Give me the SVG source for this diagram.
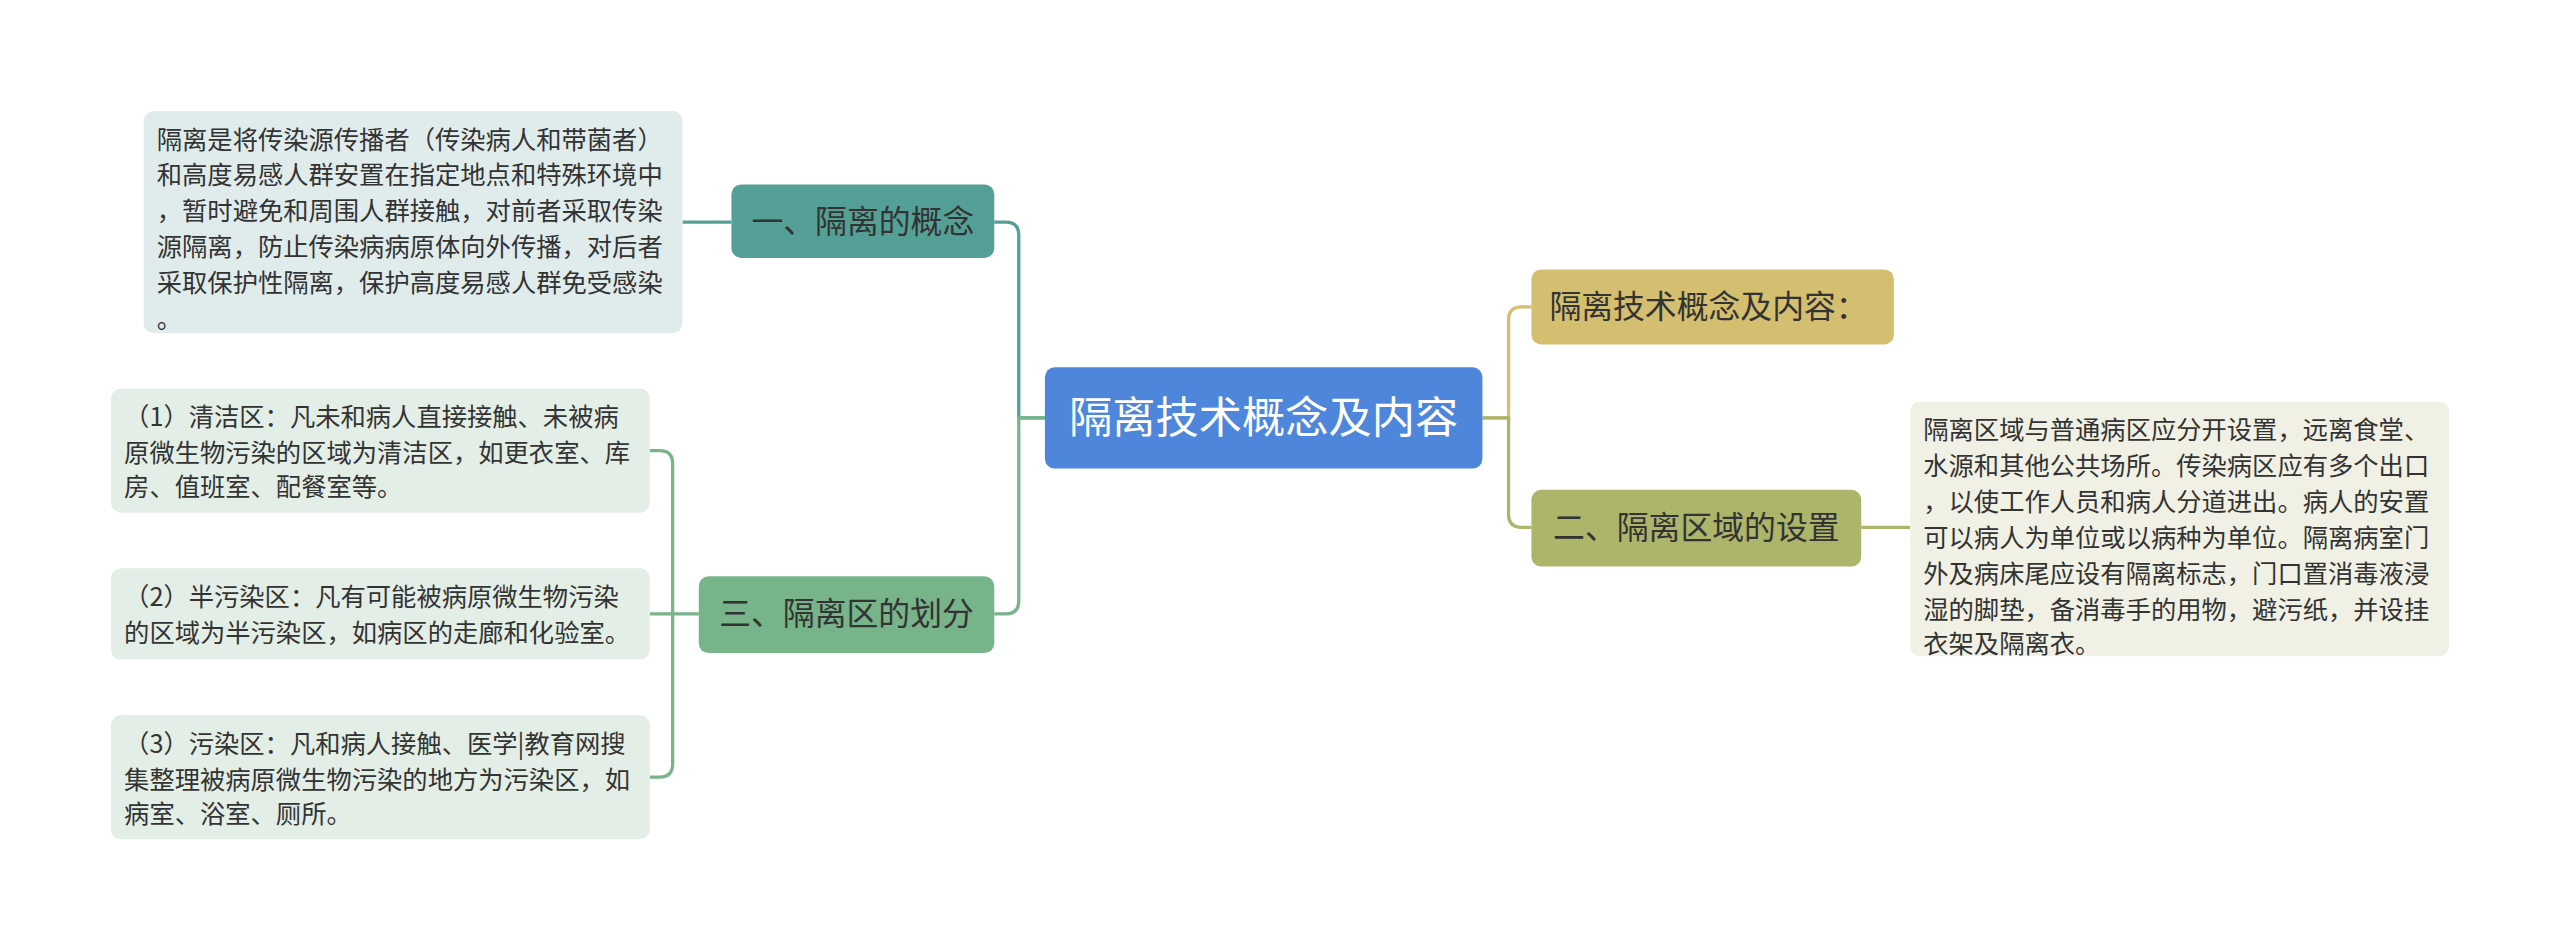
<svg xmlns="http://www.w3.org/2000/svg" width="2560" height="951" viewBox="0 0 2560 951">
<style>
text{font-family:"Noto Sans CJK SC","Noto Sans",sans-serif;fill:#333}
.s{font-size:15.5px}
.m{font-size:19.5px}
.c{fill:none;stroke-width:2}
</style>
<rect width="2560" height="951" fill="#fff"/>
<g transform="scale(1.63265)">
<g id="connectors">
<path class="c" stroke="#55a096" d="M640 256H624V144Q624 136 616 136H609"/>
<path class="c" stroke="#55a096" d="M448 136H418"/>
<path class="c" stroke="#77b48a" d="M640 256H624V368Q624 376 616 376H609"/>
<path class="c" stroke="#77b48a" d="M428 376H398M412 376V284Q412 276 404 276H398M412 376V468Q412 476 404 476H398"/>
<path class="c" stroke="#d4be6f" d="M908 256H924V196Q924 188 932 188H938"/>
<path class="c" stroke="#adb56b" d="M908 256H924V315Q924 323 932 323H938"/>
<path class="c" stroke="#adb56b" d="M1140 323H1170"/>
</g>
<g id="root"><rect x="640" y="225" width="268" height="62" rx="6" fill="#4e86db"/>
<text x="774" y="265" text-anchor="middle" style="font-size:26.5px;fill:#fff">隔离技术概念及内容</text></g>
<g id="n1"><rect x="448" y="113" width="161" height="45" rx="6" fill="#55a096"/>
<text x="528.5" y="143" text-anchor="middle" class="m">一、隔离的概念</text></g>
<g id="n1t"><rect x="88" y="68" width="330" height="136" rx="6" fill="#e0eceb"/>
<text class="s" x="96"><tspan y="91">隔离是将传染源传播者（传染病人和带菌者）</tspan><tspan x="96" y="113">和高度易感人群安置在指定地点和特殊环境中</tspan><tspan x="96" y="135">，暂时避免和周围人群接触，对前者采取传染</tspan><tspan x="96" y="157">源隔离，防止传染病病原体向外传播，对后者</tspan><tspan x="96" y="179">采取保护性隔离，保护高度易感人群免受感染</tspan><tspan x="96" y="201">。</tspan></text></g>
<g id="n3"><rect x="428" y="353" width="181" height="47" rx="6" fill="#77b48a"/>
<text x="518.5" y="383" text-anchor="middle" class="m">三、隔离区的划分</text></g>
<g id="n31"><rect x="68" y="238" width="330" height="76" rx="6" fill="#e3eee6"/>
<text class="s" x="76"><tspan y="261">（1）清洁区：凡未和病人直接接触、未被病</tspan><tspan x="76" y="283">原微生物污染的区域为清洁区，如更衣室、库</tspan><tspan x="76" y="304">房、值班室、配餐室等。</tspan></text></g>
<g id="n32"><rect x="68" y="348" width="330" height="56" rx="6" fill="#e3eee6"/>
<text class="s" x="76"><tspan y="371">（2）半污染区：凡有可能被病原微生物污染</tspan><tspan x="76" y="393">的区域为半污染区，如病区的走廊和化验室。</tspan></text></g>
<g id="n33"><rect x="68" y="438" width="330" height="76" rx="6" fill="#e3eee6"/>
<text class="s" x="76"><tspan y="461">（3）污染区：凡和病人接触、医学|教育网搜</tspan><tspan x="76" y="483">集整理被病原微生物污染的地方为污染区，如</tspan><tspan x="76" y="504">病室、浴室、厕所。</tspan></text></g>
<g id="n2"><rect x="938" y="165" width="222" height="46" rx="6" fill="#d4be6f"/>
<text x="949" y="195" class="m">隔离技术概念及内容：</text></g>
<g id="n4"><rect x="938" y="300" width="202" height="47" rx="6" fill="#adb56b"/>
<text x="1039" y="330" text-anchor="middle" class="m">二、隔离区域的设置</text></g>
<g id="n4t"><rect x="1170" y="246" width="330" height="156" rx="6" fill="#f0f0e4"/>
<text class="s" x="1178"><tspan y="269">隔离区域与普通病区应分开设置，远离食堂、</tspan><tspan x="1178" y="291">水源和其他公共场所。传染病区应有多个出口</tspan><tspan x="1178" y="313">，以使工作人员和病人分道进出。病人的安置</tspan><tspan x="1178" y="335">可以病人为单位或以病种为单位。隔离病室门</tspan><tspan x="1178" y="357">外及病床尾应设有隔离标志，门口置消毒液浸</tspan><tspan x="1178" y="379">湿的脚垫，备消毒手的用物，避污纸，并设挂</tspan><tspan x="1178" y="400">衣架及隔离衣。</tspan></text></g>
</g>
</svg>
